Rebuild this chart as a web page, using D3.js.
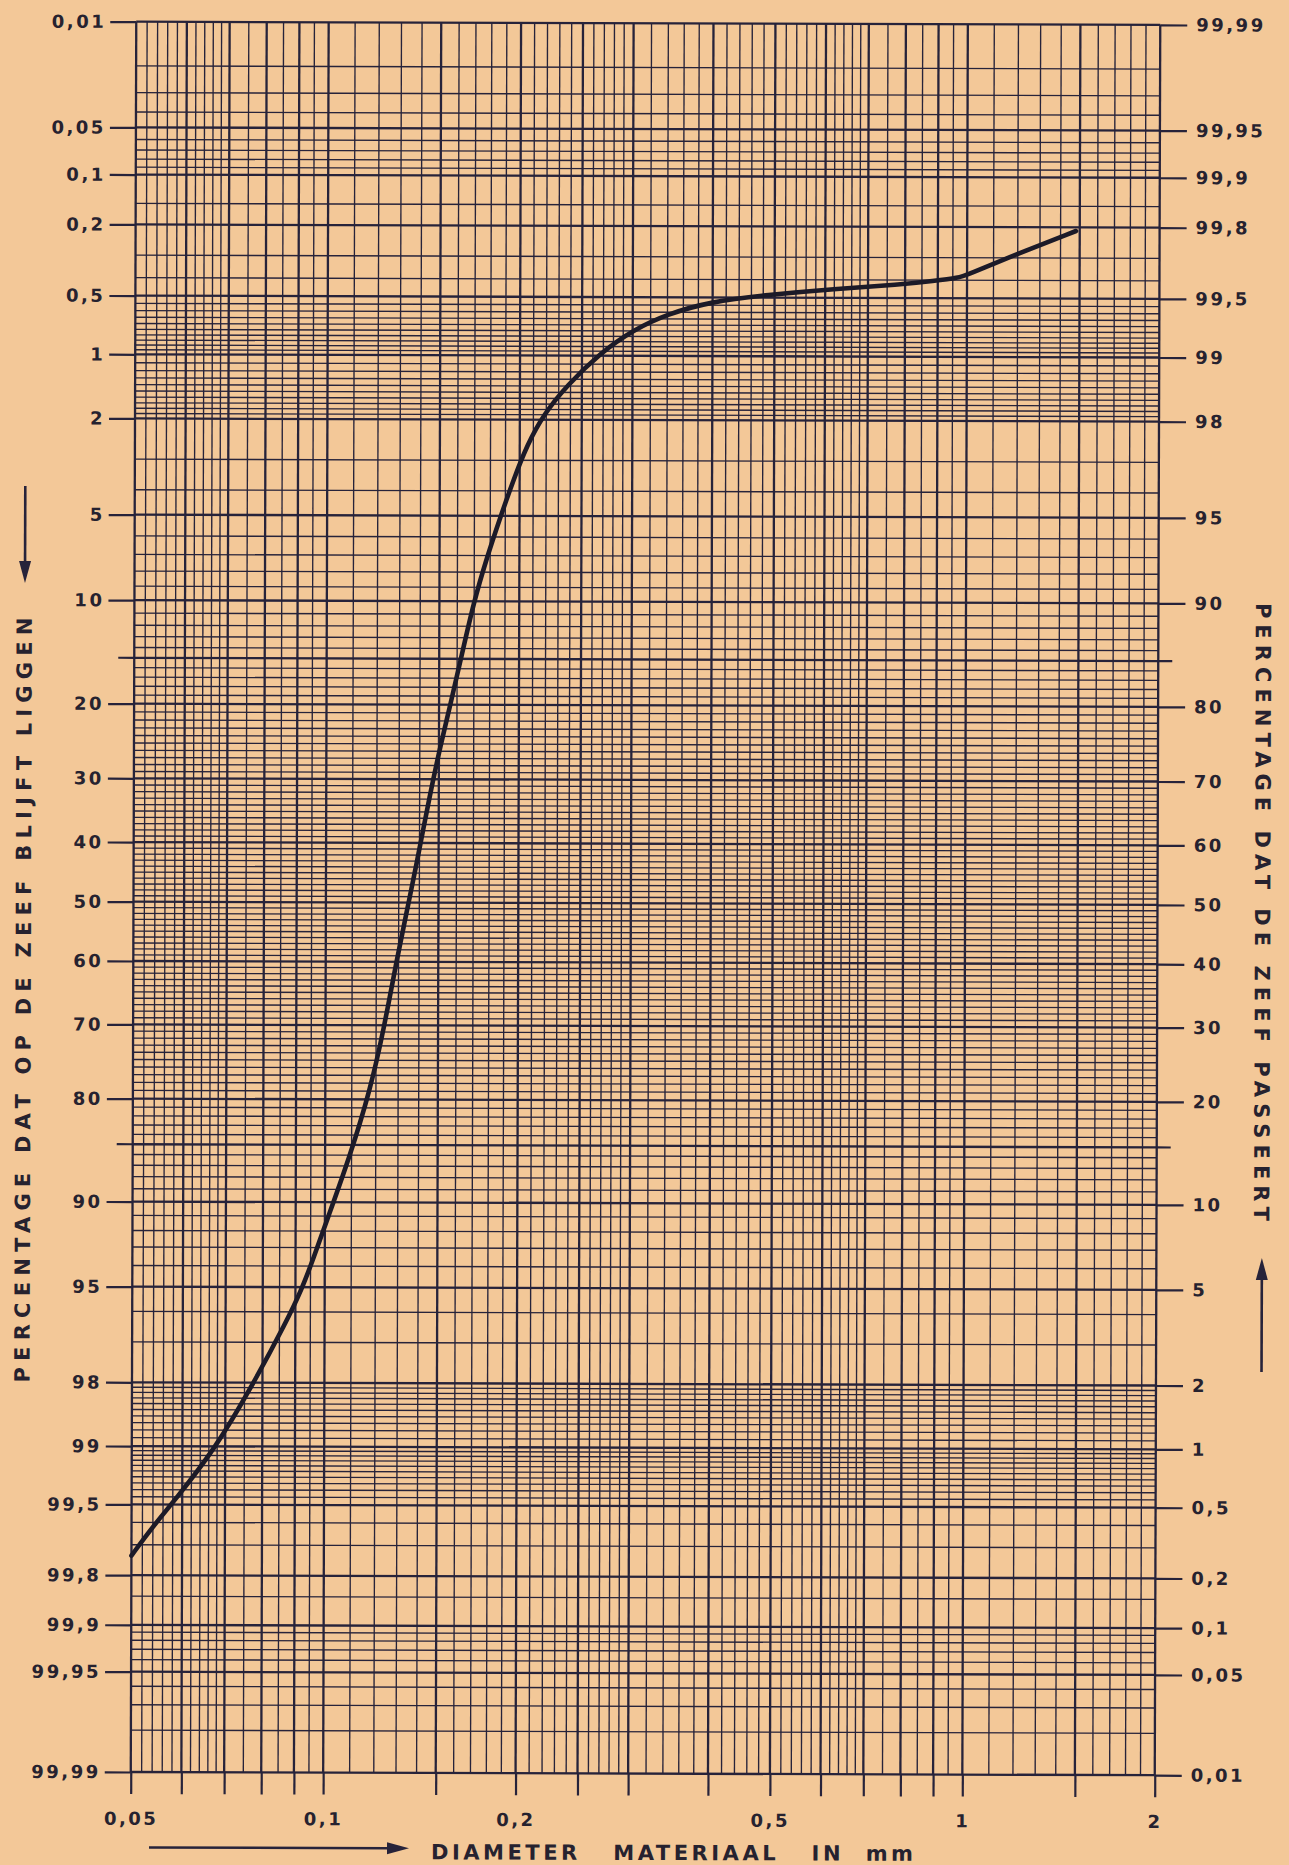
<!DOCTYPE html>
<html>
<head>
<meta charset="utf-8">
<script src="https://cdn.jsdelivr.net/npm/d3@7"></script>
<style>
  body { margin: 0; background: #f3c898; }
  svg { display: block; }
  text { font-family: "DejaVu Sans", sans-serif; fill: #26222f; font-weight: bold; }
</style>
</head>
<body>
<div id="chart"></div>
<script>
// percentage retained, labelled on the left (right side shows 100 - p)
const yLabels = [0.01, 0.05, 0.1, 0.2, 0.5, 1, 2, 5, 10, 20, 30, 40, 50, 60, 70, 80, 90, 95, 98, 99, 99.5, 99.8, 99.9, 99.95, 99.99];
const yShortTicks = [15, 85];
// minor horizontal grid for the upper half, [from, to, step]; mirrored below 50
const yMinorSteps = [[0.01, 0.1, 0.01], [0.1, 0.2, 0.05], [0.2, 0.5, 0.1], [0.5, 1, 0.05], [1, 2, 0.1], [2, 10, 1], [10, 50, 1]];

// diameter axis
const xLabels = [0.05, 0.1, 0.2, 0.5, 1, 2];
const xMajor = [0.05, 0.06, 0.07, 0.08, 0.09, 0.1, 0.15, 0.2, 0.25, 0.3, 0.4, 0.5, 0.6, 0.7, 0.8, 0.9, 1, 1.5, 2];
const xMinorSteps = [[0.05, 0.07, 0.002], [0.07, 0.1, 0.005], [0.1, 0.3, 0.01], [0.3, 0.7, 0.02], [0.7, 1, 0.05], [1, 2, 0.1]];

// sieve curve: diameter (mm) and percentage retained
const diameter = [0.05, 0.054, 0.0585, 0.0676, 0.0766, 0.0874, 0.0921, 0.096, 0.1008, 0.1091, 0.1176, 0.1233, 0.1292,
  0.1339, 0.138, 0.1454, 0.1508, 0.1562, 0.1628, 0.1697, 0.1779, 0.1867, 0.1957, 0.2054, 0.218, 0.237, 0.267, 0.301,
  0.3397, 0.397, 0.4865, 0.619, 0.786, 0.887, 0.971, 1.0, 1.197, 1.48];
const retained = [99.74, 99.62, 99.47, 99.02, 98.13, 96.3, 95.08, 93.6, 91.25, 86.28, 78.8, 70.7, 59.6,
  51.4, 44.5, 32.1, 25.3, 20.0, 14.55, 10.1, 7.11, 5.05, 3.6, 2.58, 1.89, 1.39, 0.97, 0.74,
  0.614, 0.527, 0.484, 0.448, 0.424, 0.404, 0.388, 0.373, 0.285, 0.21];

// inverse normal cdf (Acklam)
function probit(p) {
  const a = [-3.969683028665376e+01, 2.209460984245205e+02, -2.759285104469687e+02, 1.383577518672690e+02, -3.066479806614716e+01, 2.506628277459239e+00];
  const b = [-5.447609879822406e+01, 1.615858368580409e+02, -1.556989798598866e+02, 6.680131188771972e+01, -1.328068155288572e+01];
  const c = [-7.784894002430293e-03, -3.223964580411365e-01, -2.400758277161838e+00, -2.549732539343734e+00, 4.374664141464968e+00, 2.938163982698783e+00];
  const d = [7.784695709041462e-03, 3.224671290700398e-01, 2.445134137142996e+00, 3.754408661907416e+00];
  const pl = 0.02425;
  let q, r;
  if (p < pl) {
    q = Math.sqrt(-2 * Math.log(p));
    return (((((c[0] * q + c[1]) * q + c[2]) * q + c[3]) * q + c[4]) * q + c[5]) / ((((d[0] * q + d[1]) * q + d[2]) * q + d[3]) * q + 1);
  }
  if (p > 1 - pl) {
    q = Math.sqrt(-2 * Math.log(1 - p));
    return -(((((c[0] * q + c[1]) * q + c[2]) * q + c[3]) * q + c[4]) * q + c[5]) / ((((d[0] * q + d[1]) * q + d[2]) * q + d[3]) * q + 1);
  }
  q = p - 0.5; r = q * q;
  return (((((a[0] * r + a[1]) * r + a[2]) * r + a[3]) * r + a[4]) * r + a[5]) * q / (((((b[0] * r + b[1]) * r + b[2]) * r + b[3]) * r + b[4]) * r + 1);
}

const W = 1289, H = 1865;
const plotLeft = 133.5, plotRight = 1157.5, plotTop = 23.3, plotBottom = 1773.6;
const ink = '#27233a';

const x = d3.scaleLog().domain([0.05, 2]).range([plotLeft, plotRight]);
// the paper's probability scale is a little wider between 0,01 and 0,05
const z = d3.scaleLinear()
  .domain([probit(0.0001), probit(0.0005), 0, probit(0.9999)])
  .range([plotTop, 129, 903.3, plotBottom]);
const y = p => z(probit(p / 100));

const fmt = v => String(v).replace('.', ',');
const stepValues = steps => {
  const out = [];
  steps.forEach(([a, b, s]) => {
    d3.range(a, b + s / 2, s).forEach(v => out.push(+v.toFixed(4)));
  });
  return Array.from(new Set(out));
};

const svgRoot = d3.select('#chart').append('svg')
  .attr('width', W)
  .attr('height', H);

svgRoot.append('rect').attr('width', W).attr('height', H).attr('fill', '#f3c898');

// the scanned sheet sits very slightly rotated
const svg = svgRoot.append('g').attr('transform', 'rotate(0.18,645,900)');

// horizontal grid
const yUpper = stepValues(yMinorSteps);
const yAll = Array.from(new Set(yUpper.concat(yUpper.map(p => +(100 - p).toFixed(4)))));
const yHeavy = yLabels.concat(yShortTicks);

svg.append('g').selectAll('line')
  .data(yAll)
  .enter().append('line')
  .attr('x1', plotLeft).attr('x2', plotRight)
  .attr('y1', d => y(d)).attr('y2', d => y(d))
  .attr('stroke', ink)
  .attr('stroke-width', d => yHeavy.includes(d) ? 2.3 : 1.35);

// vertical grid
const xAll = stepValues(xMinorSteps);
svg.append('g').selectAll('line')
  .data(xAll)
  .enter().append('line')
  .attr('x1', d => x(d)).attr('x2', d => x(d))
  .attr('y1', plotTop).attr('y2', plotBottom)
  .attr('stroke', ink)
  .attr('stroke-width', d => xMajor.includes(d) ? 2.3 : 1.35);

// axes
const styleAxis = g => {
  g.attr('font-family', null);
  g.select('.domain').remove();
  g.selectAll('line').attr('stroke', ink).attr('stroke-width', 2.2);
  g.selectAll('text')
    .attr('fill', ink)
    .style('font-size', '18px')
    .style('letter-spacing', '2.5px');
};

const yAxisLeft = d3.axisLeft(z)
  .tickValues(yLabels.map(p => probit(p / 100)))
  .tickFormat((d, i) => fmt(yLabels[i]))
  .tickSize(26).tickPadding(4);
svg.append('g').attr('transform', 'translate(' + plotLeft + ',0)').call(yAxisLeft).call(styleAxis);

const yAxisRight = d3.axisRight(z)
  .tickValues(yLabels.map(p => probit(p / 100)))
  .tickFormat((d, i) => fmt(+(100 - yLabels[i]).toFixed(2)))
  .tickSize(27).tickPadding(9);
svg.append('g').attr('transform', 'translate(' + plotRight + ',0)').call(yAxisRight).call(styleAxis);

// short ticks at 15 / 85
svg.append('g').selectAll('line')
  .data(yShortTicks)
  .enter().append('line')
  .attr('x1', plotLeft - 16).attr('x2', plotLeft)
  .attr('y1', d => y(d)).attr('y2', d => y(d))
  .attr('stroke', ink).attr('stroke-width', 2.2);
svg.append('g').selectAll('line')
  .data(yShortTicks)
  .enter().append('line')
  .attr('x1', plotRight).attr('x2', plotRight + 14)
  .attr('y1', d => y(d)).attr('y2', d => y(d))
  .attr('stroke', ink).attr('stroke-width', 2.2);

const xAxis = d3.axisBottom(x)
  .tickValues(xMajor)
  .tickFormat(d => xLabels.includes(d) ? fmt(d) : '')
  .tickSize(22).tickPadding(18);
svg.append('g').attr('transform', 'translate(0,' + plotBottom + ')').call(xAxis).call(styleAxis);

// sieve curve
const line = d3.line()
  .x((d, i) => x(diameter[i]))
  .y((d, i) => y(retained[i]))
  .curve(d3.curveBasis);

svg.append('path')
  .datum(diameter)
  .attr('d', line)
  .attr('fill', 'none')
  .attr('stroke', '#1c1a28')
  .attr('stroke-width', 4.6)
  .attr('stroke-linejoin', 'round')
  .attr('stroke-linecap', 'round');

// titles
svg.append('text')
  .attr('transform', 'translate(31,1002) rotate(-90)')
  .attr('text-anchor', 'middle')
  .attr('textLength', 765).attr('lengthAdjust', 'spacing')
  .style('font-size', '21px')
  .text('PERCENTAGE DAT OP DE ZEEF BLIJFT LIGGEN');

svg.append('text')
  .attr('transform', 'translate(1255,910) rotate(90)')
  .attr('text-anchor', 'middle')
  .attr('textLength', 618).attr('lengthAdjust', 'spacing')
  .style('font-size', '21px')
  .text('PERCENTAGE DAT DE ZEEF PASSEERT');

svg.append('text')
  .attr('x', 434).attr('y', 1860)
  .attr('textLength', 482).attr('lengthAdjust', 'spacing')
  .style('font-size', '21px')
  .style('white-space', 'pre')
  .text('DIAMETER   MATERIAAL   IN  mm');

// arrows
const arrow = (x1, y1, x2, y2) => {
  const ang = Math.atan2(y2 - y1, x2 - x1);
  const len = 22, half = 6;
  const bx = x2 - len * Math.cos(ang), by = y2 - len * Math.sin(ang);
  svg.append('line')
    .attr('x1', x1).attr('y1', y1).attr('x2', bx).attr('y2', by)
    .attr('stroke', ink).attr('stroke-width', 2.6);
  svg.append('path')
    .attr('d', d3.line()([
      [x2, y2],
      [bx + half * Math.sin(ang), by - half * Math.cos(ang)],
      [bx - half * Math.sin(ang), by + half * Math.cos(ang)]
    ]) + 'Z')
    .attr('fill', ink);
};
arrow(152, 1849, 412, 1849);
arrow(24, 488, 24, 585);
arrow(1263, 1370, 1263, 1256);
</script>
</body>
</html>
